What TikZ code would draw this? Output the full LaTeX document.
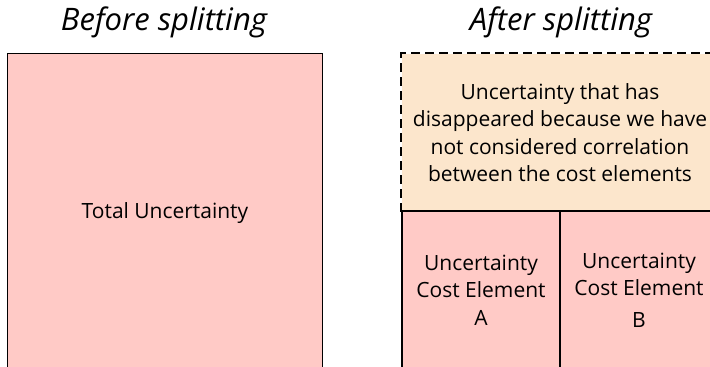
\documentclass[tikz,border=0pt]{standalone}
\usepackage{fontspec}
\setmainfont{Open Sans}
\definecolor{pinkfill}{HTML}{FFCAC6}
\definecolor{beigefill}{HTML}{FCE6CC}
\tikzset{
  part/.style={draw, line width=1.2pt, fill=pinkfill, align=center, inner sep=0pt, font=\fontsize{21}{27.5}\selectfont},
  title/.style={font=\fontsize{31}{34}\selectfont\itshape}
}
\begin{document}
\begin{tikzpicture}[x=1pt, y=-1pt]
\useasboundingbox (0,0) rectangle (710,367);
\node[title] (before) at (164,22) {Before splitting};
\node[title] (after) at (561,22) {After splitting};
\node[part, minimum width=315pt, minimum height=319pt] (total) at (165,213) {Total Uncertainty};
\node[part, draw=none, fill=beigefill, minimum width=316pt, minimum height=157pt] (lost) at (560,132.5) {Uncertainty that has\\disappeared because we have\\not considered correlation\\between the cost elements};
\draw[line width=2pt, dash pattern=on 9pt off 5pt] (lost.south west) -- (lost.north west) -- (lost.north east);
\node[part, minimum width=158pt, minimum height=158pt] (elemA) at (481,290) {Uncertainty\\Cost Element\\A};
\node[part, minimum width=158pt, minimum height=158pt] (elemB) at (639,290) {Uncertainty\\Cost Element\\[4pt]B};
\end{tikzpicture}
\end{document}
